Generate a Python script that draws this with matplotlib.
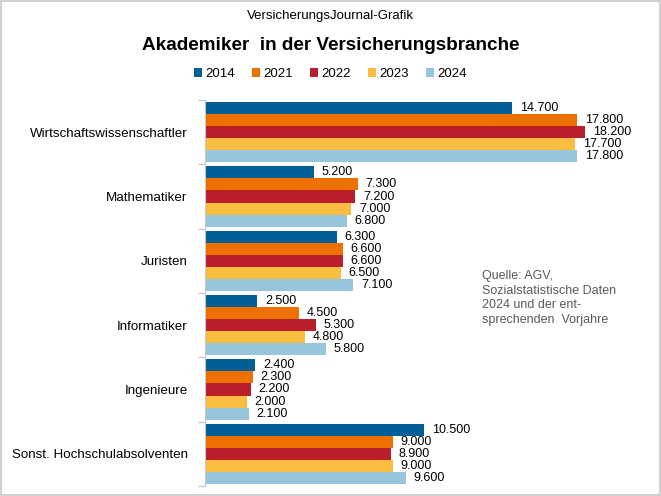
import matplotlib.pyplot as plt
import numpy as np
from matplotlib.patches import Rectangle

plt.rcParams['font.family'] = ['Liberation Sans', 'DejaVu Sans']

# ── Data ──────────────────────────────────────────────────────────────────────
categories = ["Wirtschaftswissenschaftler", "Mathematiker", "Juristen",
              "Informatiker", "Ingenieure", "Sonst. Hochschulabsolventen"]
years = ["2014", "2021", "2022", "2023", "2024"]
v2014 = [14.7, 5.2, 6.3, 2.5, 2.4, 10.5]
v2021 = [17.8, 7.3, 6.6, 4.5, 2.3, 9.0]
v2022 = [18.2, 7.2, 6.6, 5.3, 2.2, 8.9]
v2023 = [17.7, 7.0, 6.5, 4.8, 2.0, 9.0]
v2024 = [17.8, 6.8, 7.1, 5.8, 2.1, 9.6]
series = [v2014, v2021, v2022, v2023, v2024]
colors = ["#005f96", "#ee7000", "#b81f2b", "#fbbc42", "#96c5dc"]

fig = plt.figure(figsize=(6.61, 4.96), dpi=100)
fig.patches.append(Rectangle((0.002, 0.002), 0.996, 0.996, transform=fig.transFigure,
                             fill=False, edgecolor="#c8c8c8", linewidth=1.2))

ax = fig.add_axes([205 / 661, 1 - 486 / 496, 418 / 661, 386 / 496])

n = len(categories)
bar_h = 0.187
centers = np.arange(n)
for i, (vals, col, yr) in enumerate(zip(series, colors, years)):
    ys = centers + (i - 2) * bar_h
    ax.barh(ys, vals, height=bar_h, color=col, label=yr, linewidth=0)
    for y, v in zip(ys, vals):
        ax.text(v + 0.37, y, f"{v:.3f}", va="center", ha="left", fontsize=9)

ax.set_xlim(0, 20)
ax.set_ylim(n - 0.5, -0.5)
ax.set_yticks(centers)
ax.set_yticklabels(categories, fontsize=9.6)
ax.tick_params(axis="y", length=0, pad=12.5)
ax.set_yticks(np.arange(n + 1) - 0.5, minor=True)
ax.tick_params(axis="y", which="minor", length=5, color="#c8c8c8", width=1)
ax.set_xticks([])
for s in ["top", "right", "bottom"]:
    ax.spines[s].set_visible(False)
ax.spines["left"].set_color("#c8c8c8")

fig.text(0.5, 1 - 16 / 496, "VersicherungsJournal-Grafik", ha="center", va="center", fontsize=9.5)
fig.text(0.5, 1 - 46 / 496, "Akademiker  in der Versicherungsbranche", ha="center",
         va="center", fontsize=13.6, fontweight="bold")

handles, labels = ax.get_legend_handles_labels()
fig.legend(handles, labels, loc="center", bbox_to_anchor=(0.5, 1 - 74 / 496), ncol=5,
           frameon=False, fontsize=9.5, handlelength=0.6, handleheight=0.6,
           handletextpad=0.25, columnspacing=1.3)

fig.text(482 / 661, 1 - 298 / 496,
         "Quelle: AGV,\nSozialstatistische Daten\n2024 und der ent-\nsprechenden  Vorjahre",
         ha="left", va="center", fontsize=9, color="#595959", linespacing=1.33)

fig.savefig("out.png", dpi=100)
